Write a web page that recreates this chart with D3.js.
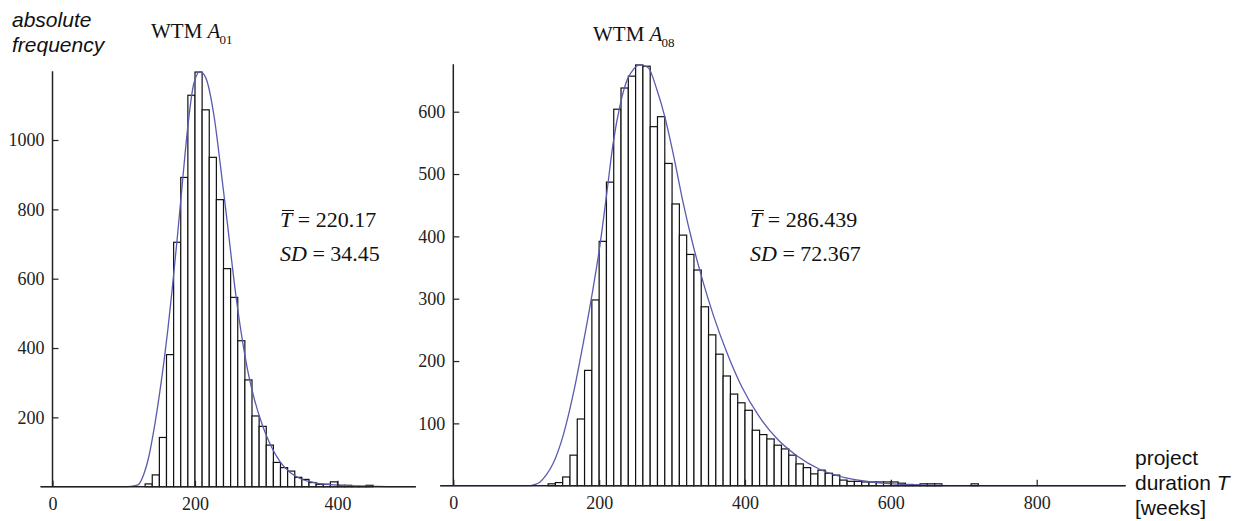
<!DOCTYPE html>
<html>
<head>
<meta charset="utf-8">
<script src="https://cdnjs.cloudflare.com/ajax/libs/d3/7.8.5/d3.min.js"></script>
<style>
body { margin: 0; background: #fff; }
.tick text { font-family: "Liberation Serif", serif; font-size: 18px; fill: #222; }
.tick line { stroke: #222; stroke-width: 1.2; }
</style>
</head>
<body>
<script>
// histogram counts, 10-week bins (bin start values)
var binStartsA01 = [130, 140, 150, 160, 170, 180, 190, 200, 210, 220, 230, 240, 250, 260, 270, 280,
  290, 300, 310, 320, 330, 340, 350, 360, 370, 380, 390, 400, 410, 420, 430, 440];
var countsA01 = [8, 34, 142, 381, 705, 892, 1129, 1196, 1087, 950, 828, 629, 546, 421, 308, 204,
  174, 120, 70, 55, 45, 27, 21, 12, 7, 7, 14, 4, 4, 1, 1, 4];

var binStartsA08 = [130, 140, 150, 160, 170, 180, 190, 200, 210, 220, 230, 240, 250, 260, 270, 280,
  290, 300, 310, 320, 330, 340, 350, 360, 370, 380, 390, 400, 410, 420, 430, 440, 450, 460, 470, 480,
  490, 500, 510, 520, 530, 540, 550, 560, 570, 580, 590, 600, 610, 620, 630, 640, 650, 660, 670, 680,
  690, 700, 710];
var countsA08 = [3, 5, 14, 49, 107, 185, 298, 392, 487, 604, 638, 657, 675, 673, 576, 592,
  517, 452, 402, 371, 346, 287, 242, 211, 176, 147, 133, 121, 89, 82, 75, 65, 59, 49, 35, 29,
  19, 25, 20, 17, 9, 7, 7, 6, 6, 6, 6, 6, 4, 2, 1, 3, 3, 3, 0, 0,
  0, 0, 3];
var binWidth = 10;

// fitted density curve (T, frequency)
var fitTA01 = [-16, 100, 110, 120, 128, 135, 142, 150, 157, 162, 168, 175, 182, 190, 198, 207, 215,
  227, 236, 246, 255, 264, 274, 283, 295, 306, 320, 334, 348, 367, 391, 414, 450, 480, 510];
var fitFA01 = [0, 0, 1, 5, 35, 85, 160, 265, 370, 455, 570, 715, 870, 1040, 1160, 1197, 1180,
  1065, 921, 750, 590, 455, 335, 255, 175, 120, 70, 40, 23, 12, 6, 3, 1, 0, 0];

var fitTA08 = [-18, 100, 105, 112, 119, 128, 137, 151, 165, 176, 190, 201, 210, 219, 229, 238, 247,
  256, 267, 279, 290, 302, 315, 329, 343, 357, 375, 395, 420, 445, 470, 503, 540, 580, 626, 680, 922];
var fitFA08 = [0, 0, 0, 2, 6, 18, 36, 82, 150, 215, 305, 385, 465, 548, 612, 650, 668,
  675, 671, 636, 592, 530, 455, 385, 325, 272, 214, 160, 110, 74, 49, 26, 12, 5, 1.5, 0, 0];

var xTicksA01 = [0, 200, 400];
var yTicksA01 = [200, 400, 600, 800, 1000];
var xTicksA08 = [0, 200, 400, 600, 800];
var yTicksA08 = [100, 200, 300, 400, 500, 600];

var svg = d3.select('body').append('svg')
    .attr('width', 1242)
    .attr('height', 521);

function drawText(text, x, y, size, family, style) {
  return svg.append('text')
      .attr('x', x)
      .attr('y', y)
      .attr('font-size', size)
      .attr('font-family', family)
      .attr('font-style', style || 'normal')
      .attr('fill', '#111')
      .text(text);
}

function drawPanel(p) {
  var x = d3.scaleLinear().domain([0, 400]).range(p.xPix);
  var y = d3.scaleLinear().domain([0, p.yRef]).range(p.yPix);

  var bars = p.bins.map(function(b, i) { return {t: b, n: p.counts[i]}; })
      .filter(function(d) { return d.n > 0; });

  svg.append('g').selectAll('rect')
      .data(bars)
      .enter().append('rect')
      .attr('x', function(d) { return x(d.t); })
      .attr('width', function(d) { return x(d.t + binWidth) - x(d.t); })
      .attr('y', function(d) { return y(d.n); })
      .attr('height', function(d) { return y(0) - y(d.n); })
      .attr('fill', '#fff')
      .attr('stroke', '#111')
      .attr('stroke-width', 1.2);

  var line = d3.line()
      .x(function(d) { return x(d[0]); })
      .y(function(d) { return y(d[1]); })
      .curve(d3.curveMonotoneX);
  svg.append('path')
      .datum(p.fitT.map(function(t, i) { return [t, p.fitF[i]]; }))
      .attr('d', line)
      .attr('fill', 'none')
      .attr('stroke', '#5a5ab0')
      .attr('stroke-width', 1.3);

  // y axis: minor ticks, then labelled ticks
  var gy = svg.append('g').attr('transform', 'translate(' + x(0) + ',0)');
  gy.call(d3.axisLeft(y).tickValues(d3.range(p.minorStep, p.yTop, p.minorStep))
      .tickSize(-3).tickFormat(''));
  gy.call(d3.axisLeft(y).tickValues(p.yTicks).tickSize(-6).tickPadding(8)
      .tickFormat(d3.format('d')));
  gy.selectAll('.domain').remove();
  gy.append('line')
      .attr('y1', y(0)).attr('y2', y(p.yTop))
      .attr('stroke', '#222').attr('stroke-width', 1.5);

  var gx = svg.append('g').attr('transform', 'translate(0,' + y(0) + ')');
  gx.call(d3.axisBottom(x).tickValues(p.xTicks).tickSize(-6).tickPadding(11)
      .tickFormat(d3.format('d')));
  gx.selectAll('.domain').remove();
  gx.append('line')
      .attr('x1', x(p.xFrom)).attr('x2', x(p.xTo))
      .attr('stroke', '#222').attr('stroke-width', 1.6);
}

drawPanel({
  bins: binStartsA01, counts: countsA01, fitT: fitTA01, fitF: fitFA01,
  xTicks: xTicksA01, yTicks: yTicksA01,
  xPix: [52.5, 337.5], yRef: 1000, yPix: [486.7, 140],
  yTop: 1198, minorStep: 50, xFrom: -17, xTo: 510
});

drawPanel({
  bins: binStartsA08, counts: countsA08, fitT: fitTA08, fitF: fitFA08,
  xTicks: xTicksA08, yTicks: yTicksA08,
  xPix: [453.3, 745], yRef: 600, yPix: [485.7, 111.7],
  yTop: 676, minorStep: 20, xFrom: -18, xTo: 922
});

// axis titles
drawText('absolute', 12, 27, 21, '"Liberation Sans", Arial, sans-serif', 'italic');
drawText('frequency', 12, 52, 21, '"Liberation Sans", Arial, sans-serif', 'italic');
drawText('project', 1135, 465, 21, '"Liberation Sans", Arial, sans-serif');
var dur = drawText('duration ', 1135, 490, 21, '"Liberation Sans", Arial, sans-serif');
dur.append('tspan').attr('font-style', 'italic').text('T');
drawText('[weeks]', 1135, 515, 21, '"Liberation Sans", Arial, sans-serif');

// panel titles
function title(x, y, sub) {
  var t = drawText('WTM ', x, y, 21, '"Liberation Serif", serif');
  t.append('tspan').attr('font-style', 'italic').text('A');
  t.append('tspan').attr('font-size', 13).attr('dx', -1).attr('dy', 6).text(sub);
}
title(151, 38, '01');
title(593, 41, '08');

// statistics
function stats(x, mean, sd) {
  var t1 = drawText('', x, 227, 22, '"Liberation Serif", serif');
  t1.append('tspan').attr('font-style', 'italic').text('T');
  t1.append('tspan').text(' = ' + mean);
  svg.append('line')
      .attr('x1', x + 2).attr('x2', x + 14)
      .attr('y1', 210.5).attr('y2', 210.5)
      .attr('stroke', '#111').attr('stroke-width', 1);
  var t2 = drawText('', x, 261, 22, '"Liberation Serif", serif');
  t2.append('tspan').attr('font-style', 'italic').text('SD');
  t2.append('tspan').text(' = ' + sd);
}
stats(280, '220.17', '34.45');
stats(750, '286.439', '72.367');
</script>
</body>
</html>
